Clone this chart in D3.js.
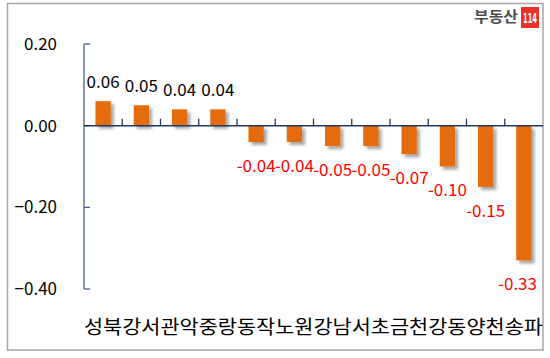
<!DOCTYPE html>
<html><head><meta charset="utf-8">
<script src="https://cdn.jsdelivr.net/npm/d3@7/dist/d3.min.js"></script>
<style>body{margin:0;background:#fff}svg{display:block}</style>
</head><body>
<script>
const categories = ["성북","강서","관악","중랑","동작","노원","강남","서초","금천","강동","양천","송파"];
const values = [0.06,0.05,0.04,0.04,-0.04,-0.04,-0.05,-0.05,-0.07,-0.10,-0.15,-0.33];
const yTicks = [0.20,0.00,-0.20,-0.40];

const W=550,H=358;
const svg=d3.select("body").append("svg").attr("width",W).attr("height",H);
const defs=svg.append("defs");
const f=defs.append("filter").attr("id","sh").attr("x","-30%").attr("y","-30%").attr("width","180%").attr("height","180%");
f.append("feDropShadow").attr("dx",3).attr("dy",3).attr("stdDeviation",1.6).attr("flood-color","#000").attr("flood-opacity",0.35);

svg.append("rect").attr("x",7.5).attr("y",3.5).attr("width",535.5).attr("height",346.5).attr("fill","#fff").attr("stroke","#a6a6a6").attr("stroke-width",1.5);

const x=d3.scaleBand().domain(categories).range([84,543]).paddingInner(0).paddingOuter(0);
const y=d3.scaleLinear().domain([-0.40,0.20]).range([289,44]);
const bw=x.bandwidth()*0.4;

// y axis
const ya=svg.append("g");
ya.append("line").attr("x1",84).attr("x2",84).attr("y1",y(0.20)).attr("y2",y(-0.40)).attr("stroke","#4a5f8e").attr("stroke-width",1.3);
ya.selectAll("line.t").data(yTicks).join("line").attr("class","t")
  .attr("x1",84).attr("x2",90).attr("y1",d=>y(d)).attr("y2",d=>y(d)).attr("stroke","#4a5f8e").attr("stroke-width",1.3);
ya.selectAll("text").data(yTicks).join("text")
  .attr("x",57).attr("y",d=>y(d)).attr("dy","0.35em").attr("text-anchor","end")
  .attr("font-family","'Noto Sans CJK KR','Noto Sans',sans-serif").attr("font-size",17).attr("fill","#000")
  .text(d=>d3.format(".2f")(d));

// bars
svg.append("g").selectAll("rect").data(values).join("rect")
  .attr("x",(d,i)=>x(categories[i])+x.bandwidth()/2-bw/2)
  .attr("width",bw)
  .attr("y",d=>y(Math.max(0,d)))
  .attr("height",d=>Math.abs(y(d)-y(0)))
  .attr("fill","#e46c0a").attr("filter","url(#sh)");

// x axis
const xa=svg.append("g");
xa.append("line").attr("x1",84).attr("x2",543).attr("y1",y(0)).attr("y2",y(0)).attr("stroke","#1f3864").attr("stroke-width",1.5);
xa.selectAll("line.t").data(categories.slice(1)).join("line").attr("class","t")
  .attr("x1",d=>x(d)).attr("x2",d=>x(d)).attr("y1",y(0)).attr("y2",y(0)-7).attr("stroke","#1f3864").attr("stroke-width",1.3);

// category labels
svg.append("g").selectAll("text").data(categories).join("text")
  .attr("x",d=>x(d)+x.bandwidth()/2).attr("y",327).attr("dy","0.35em").attr("text-anchor","middle")
  .attr("font-family","'Noto Sans CJK KR',sans-serif").attr("font-size",19.5).attr("fill","#000")
  .attr("textLength",x.bandwidth()).attr("lengthAdjust","spacingAndGlyphs")
  .text(d=>d);

// value labels
const lab=svg.append("g").selectAll("text").data(values).join("text")
  .attr("y",d=>d>=0?y(d)-19:y(d)+24).attr("dy","0.35em").attr("text-anchor","middle")
  .attr("font-family","'Noto Sans CJK KR','Noto Sans',sans-serif").attr("font-size",17)
  .attr("fill",d=>d>=0?"#000":"#ff0000")
  .text(d=>d3.format(".2f")(d).replace("−","-"));
lab.each(function(d,i){
  const cx=x(categories[i])+x.bandwidth()/2;
  const w=this.getComputedTextLength();
  d3.select(this).attr("x",Math.min(cx,537-w/2));
});

// logo
const lg=svg.append("g");
lg.append("text").attr("x",474).attr("y",17).attr("dy","0.35em").attr("text-anchor","start")
  .attr("font-family","'Noto Sans CJK KR',sans-serif").attr("font-weight","bold").attr("font-size",15).attr("fill","#4d4d4d")
  .attr("textLength",44).attr("lengthAdjust","spacingAndGlyphs").text("부동산");
lg.append("rect").attr("x",521).attr("y",7).attr("width",18).attr("height",21).attr("fill","#e8322a");
lg.append("text").attr("x",530).attr("y",18).attr("dy","0.35em").attr("text-anchor","middle")
  .attr("font-family","'DejaVu Sans Condensed','Liberation Sans Narrow',sans-serif").attr("font-weight","bold").attr("font-size",14)
  .attr("textLength",14).attr("lengthAdjust","spacingAndGlyphs").attr("fill","#fff").text("114");
</script>
</body></html>
